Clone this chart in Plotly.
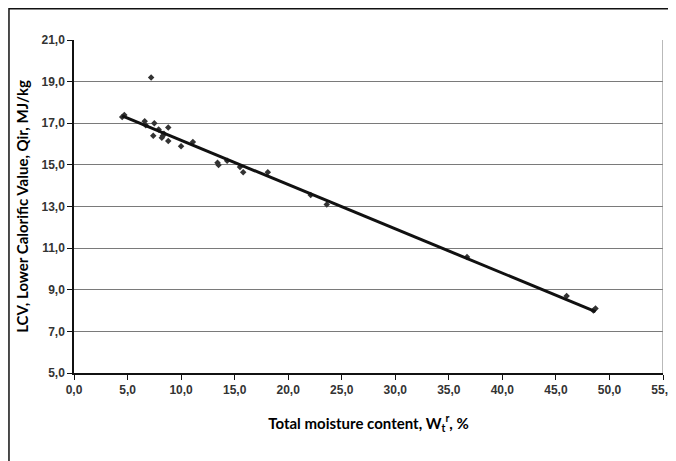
import plotly.graph_objects as go

moisture = [4.5, 4.7, 6.6, 6.7, 7.2, 7.4, 7.5, 7.9, 8.2, 8.3, 8.4, 8.8, 8.8, 10.0, 11.1,
            13.4, 13.5, 14.3, 15.5, 15.8, 18.1, 22.1, 23.6, 36.7, 46.0, 48.5, 48.7]
lcv = [17.3, 17.4, 17.1, 16.9, 19.2, 16.4, 17.0, 16.7, 16.3, 16.4, 16.5, 16.8, 16.15, 15.9, 16.1,
       15.1, 15.0, 15.2, 14.9, 14.65, 14.65, 13.55, 13.1, 10.57, 8.7, 8.0, 8.1]
trend_x = [4.5, 48.7]
trend_y = [17.35, 7.95]

x_ticks = [0, 5, 10, 15, 20, 25, 30, 35, 40, 45, 50, 55]
y_ticks = [5, 7, 9, 11, 13, 15, 17, 19, 21]

fig = go.Figure()
fig.add_trace(go.Scatter(x=moisture, y=lcv, mode="markers",
                         marker=dict(symbol="diamond", size=5, color="#333333"),
                         showlegend=False, cliponaxis=False))
fig.add_trace(go.Scatter(x=trend_x, y=trend_y, mode="lines",
                         line=dict(color="#111111", width=3), showlegend=False))

tickfont = dict(family="Liberation Sans, Arial, sans-serif", size=12, color="#333333",
                weight="bold")
titlefont = dict(family="Lato, sans-serif", size=15, color="#000000", weight="bold")

fig.update_layout(
    width=668, height=453,
    margin=dict(l=66, r=13, t=32, b=88),
    paper_bgcolor="white", plot_bgcolor="white",
    separators=",.",
    xaxis=dict(range=[0, 55], tickvals=x_ticks, tickformat=".1f", automargin=False,
               ticklabeloverflow="allow",
               showgrid=False, zeroline=False,
               showline=True, linecolor="#111111", linewidth=1.5,
               ticks="outside", ticklen=5, tickcolor="#111111", tickwidth=1,
               tickfont=tickfont,
               title=dict(text="Total moisture content, W<sub>t</sub><sup>r</sup>, %",
                          font=titlefont, standoff=22)),
    yaxis=dict(range=[5, 21], tickvals=y_ticks, tickformat=".1f", automargin=False,
               ticklabeloverflow="allow",
               showgrid=True, gridcolor="#7a7a7a", gridwidth=1.2,
               zeroline=False,
               showline=True, linecolor="#111111", linewidth=1.5,
               ticks="outside", ticklen=5, tickcolor="#111111", tickwidth=1,
               tickfont=tickfont,
               title=dict(text="LCV, Lower Calorific Value, Qir, MJ/kg",
                          font=titlefont, standoff=9)),
    shapes=[
        dict(type="line", xref="x", yref="paper", x0=55, x1=55, y0=0, y1=1,
             line=dict(color="#8a8a8a", width=1.2)),
        dict(type="rect", xref="paper", yref="paper", x0=-0.1104, x1=1.2, y0=-0.5, y1=1.094,
             line=dict(color="#111111", width=1.5), fillcolor="rgba(0,0,0,0)", layer="below"),
    ],
)

fig.write_html("out.html")
